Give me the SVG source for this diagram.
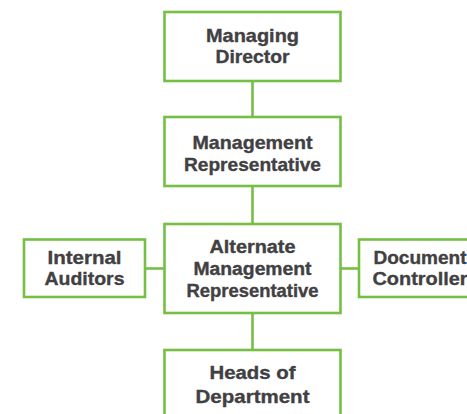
<svg xmlns="http://www.w3.org/2000/svg" width="467" height="414" viewBox="0 0 467 414">
  <style>
    .box { fill: #ffffff; stroke: #74bf44; stroke-width: 2.6; }
    .link { stroke: #74bf44; stroke-width: 2.6; fill: none; }
    .label { font-family: "Liberation Sans", Arial, sans-serif; font-weight: bold; font-size: 18.5px; fill: #414042; stroke: #414042; stroke-width: 0.35; text-anchor: middle; }
    .label.small { font-size: 17.5px; }
  </style>
  <rect width="467" height="414" fill="#ffffff"/>

  <!-- connectors -->
  <g id="connectors">
    <line class="link" x1="252.5" y1="81" x2="252.5" y2="117"/>
    <line class="link" x1="252.5" y1="186" x2="252.5" y2="224"/>
    <line class="link" x1="252.5" y1="313" x2="252.5" y2="350"/>
    <line class="link" x1="145" y1="268.5" x2="164.5" y2="268.5"/>
    <line class="link" x1="340.5" y1="268.5" x2="359" y2="268.5"/>
  </g>

  <g id="managing-director">
    <rect class="box" x="164.5" y="12" width="176" height="69"/>
    <text class="label" x="252.5" y="41.5" textLength="93" lengthAdjust="spacingAndGlyphs">Managing</text>
    <text class="label" x="252.5" y="63" textLength="74" lengthAdjust="spacingAndGlyphs">Director</text>
  </g>

  <g id="management-representative">
    <rect class="box" x="164.5" y="117" width="176" height="69"/>
    <text class="label" x="252.5" y="149" textLength="120" lengthAdjust="spacingAndGlyphs">Management</text>
    <text class="label" x="252.5" y="170.5" textLength="137" lengthAdjust="spacingAndGlyphs">Representative</text>
  </g>

  <g id="alternate-management-representative">
    <rect class="box" x="164.5" y="224" width="176" height="89"/>
    <text class="label small" x="252.5" y="253" textLength="86" lengthAdjust="spacingAndGlyphs">Alternate</text>
    <text class="label small" x="252.5" y="275" textLength="118" lengthAdjust="spacingAndGlyphs">Management</text>
    <text class="label small" x="252.5" y="297" textLength="132" lengthAdjust="spacingAndGlyphs">Representative</text>
  </g>

  <g id="internal-auditors">
    <rect class="box" x="24" y="239.5" width="121" height="57.5"/>
    <text class="label" x="84.5" y="263.5" textLength="74" lengthAdjust="spacingAndGlyphs">Internal</text>
    <text class="label" x="84.5" y="284.5" textLength="80" lengthAdjust="spacingAndGlyphs">Auditors</text>
  </g>

  <g id="document-controller">
    <rect class="box" x="359" y="239.5" width="121" height="57.5"/>
    <text class="label" x="420" y="263.5" textLength="93" lengthAdjust="spacingAndGlyphs">Document</text>
    <text class="label" x="420" y="285" textLength="95" lengthAdjust="spacingAndGlyphs">Controller</text>
  </g>

  <g id="heads-of-department">
    <rect class="box" x="164.5" y="350" width="176" height="69"/>
    <text class="label" x="252.5" y="379" textLength="86" lengthAdjust="spacingAndGlyphs">Heads of</text>
    <text class="label" x="252.5" y="402.5" textLength="114" lengthAdjust="spacingAndGlyphs">Department</text>
  </g>
</svg>
